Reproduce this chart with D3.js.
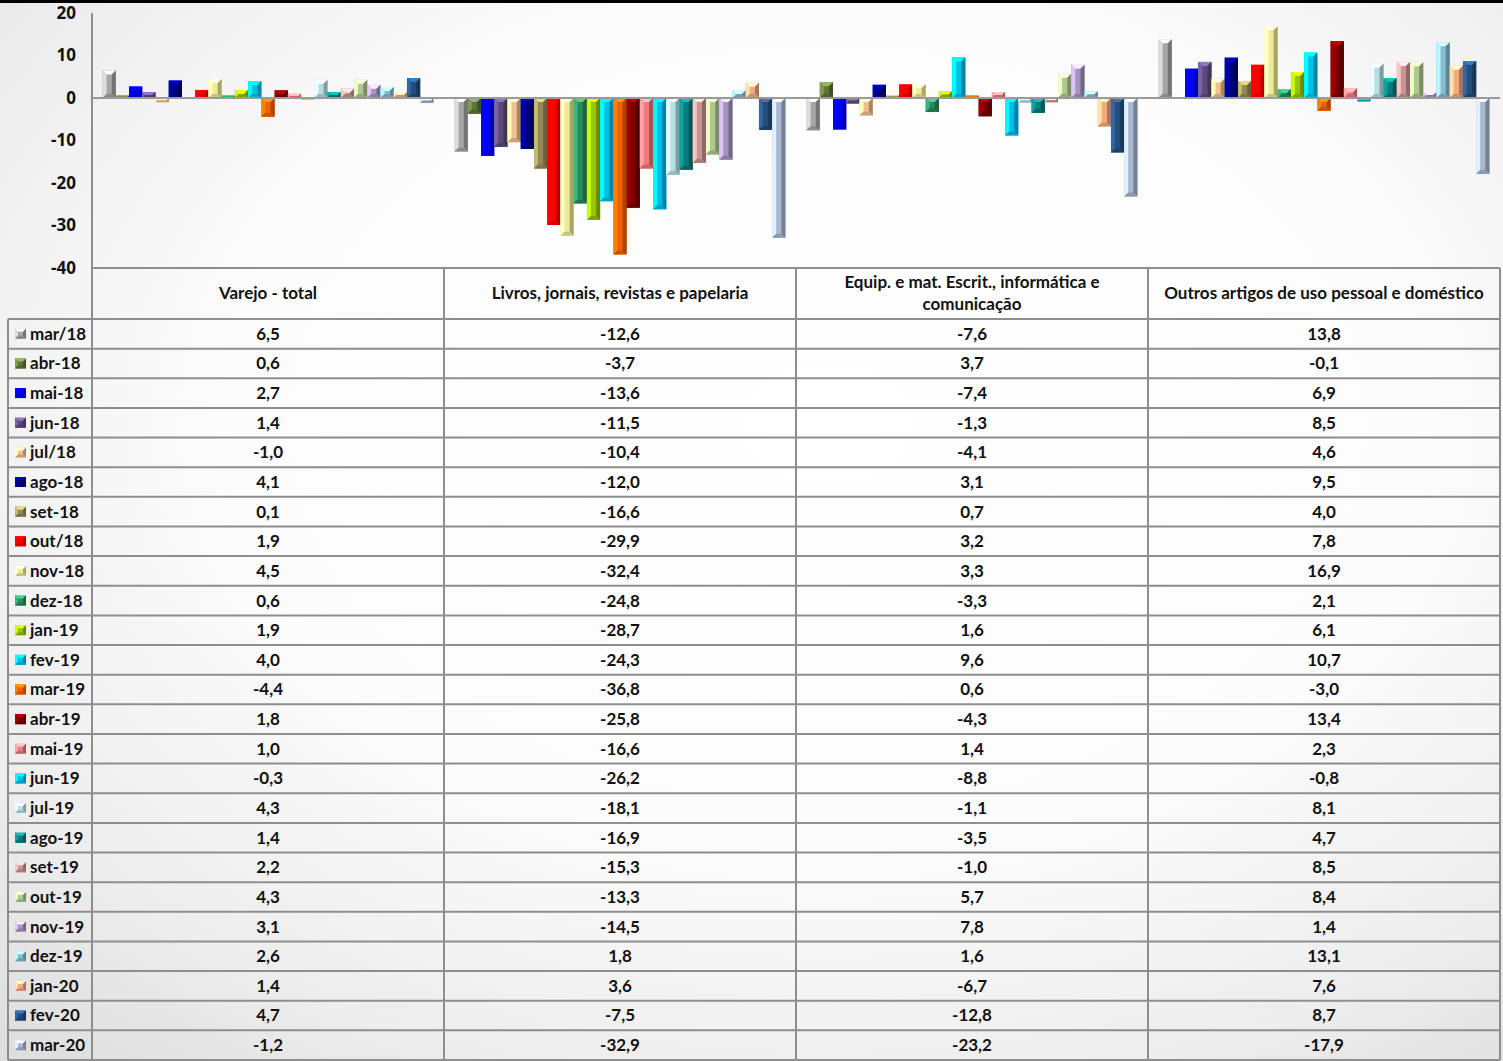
<!DOCTYPE html>
<html>
<head>
<meta charset="utf-8">
<script src="https://cdn.jsdelivr.net/npm/d3@7"></script>
<style>
body{margin:0;background:#fff;}
svg{display:block;}
.axis text{font-family:"Open Sans",sans-serif;font-weight:700;font-size:17px;fill:#111;}
.cell{font-family:Lato,"Open Sans",sans-serif;font-weight:700;font-size:17px;fill:#111;}
.grid line{stroke:#8e8e8e;stroke-width:2;}
</style>
</head>
<body>
<svg></svg>
<script>
// categories (table columns)
var categories = ["Varejo - total","Livros, jornais, revistas e papelaria",
                  "Equip. e mat. Escrit., informática e comunicação",
                  "Outros artigos de uso pessoal e doméstico"]
var headerLines = [["Varejo - total"],["Livros, jornais, revistas e papelaria"],
                   ["Equip. e mat. Escrit., informática e","comunicação"],
                   ["Outros artigos de uso pessoal e doméstico"]]

// series (one per month)
var months = ["mar/18","abr-18","mai-18","jun-18","jul/18","ago-18","set-18","out/18",
              "nov-18","dez-18","jan-19","fev-19","mar-19","abr-19","mai-19","jun-19",
              "jul-19","ago-19","set-19","out-19","nov-19","dez-19","jan-20","fev-20","mar-20"]

var varejo = [6.5,0.6,2.7,1.4,-1.0,4.1,0.1,1.9,4.5,0.6,1.9,4.0,-4.4,1.8,1.0,-0.3,4.3,1.4,2.2,4.3,3.1,2.6,1.4,4.7,-1.2]
var livros = [-12.6,-3.7,-13.6,-11.5,-10.4,-12.0,-16.6,-29.9,-32.4,-24.8,-28.7,-24.3,-36.8,-25.8,-16.6,-26.2,-18.1,-16.9,-15.3,-13.3,-14.5,1.8,3.6,-7.5,-32.9]
var equip  = [-7.6,3.7,-7.4,-1.3,-4.1,3.1,0.7,3.2,3.3,-3.3,1.6,9.6,0.6,-4.3,1.4,-8.8,-1.1,-3.5,-1.0,5.7,7.8,1.6,-6.7,-12.8,-23.2]
var outros = [13.8,-0.1,6.9,8.5,4.6,9.5,4.0,7.8,16.9,2.1,6.1,10.7,-3.0,13.4,2.3,-0.8,8.1,4.7,8.5,8.4,1.4,13.1,7.6,8.7,-17.9]

var yTicks = [20,10,0,-10,-20,-30,-40]

var colors = ["#a6a6a6","#60743a","#0000ff","#5c4a7c","#f2c08e","#000080","#948a54","#ff0000",
              "#eeea96","#288a5c","#95c400","#00c0e8","#f06000","#7a0000","#ee7a7c","#00bde8",
              "#b4e0e4","#0a7a7a","#c89494","#b0c890","#a495bd","#86bcd0","#f4aa80","#244d7c","#a8b6d0"]

var seriesByCat = [varejo,livros,equip,outros]

var locale = d3.formatLocale({decimal:",",thousands:".",grouping:[3],currency:["R$",""],minus:"-"})
var fmt1 = locale.format(".1f")
var fmt0 = locale.format("d")

var screen = {width:1503,height:1061}
var plot = {left:92,right:1500,top:13,bottom:268}
var table = {left:8,header:319,bottom:1060}

var svg = d3.select("svg")
    .attr("width",screen.width)
    .attr("height",screen.height)

var drawBackground = function()
{
    var defs = svg.append("defs")
    var g = defs.append("radialGradient")
        .attr("id","bg")
        .attr("cx","55%").attr("cy","40%").attr("r","80%")
    g.append("stop").attr("offset","0%").attr("stop-color","#ffffff")
    g.append("stop").attr("offset","50%").attr("stop-color","#fcfcfc")
    g.append("stop").attr("offset","80%").attr("stop-color","#ededed")
    g.append("stop").attr("offset","100%").attr("stop-color","#dedede")

    svg.append("rect")
        .attr("width",screen.width).attr("height",screen.height)
        .attr("fill","url(#bg)")
    svg.append("rect")
        .attr("width",screen.width).attr("height",3)
        .attr("fill","#000")
}

// bevelled bar, like the excel "cool slant" look
var bevelBar = function(parent,x0,x1,ya,yb,color,bev)
{
    var top = Math.min(ya,yb), bot = Math.max(ya,yb)
    var h = bot-top, w = x1-x0
    var b = Math.min(bev||4,h/2,w/2)
    var c = d3.color(color)
    var light = c.brighter(0.8).formatHex()
    var lighter = c.brighter(1.3).formatHex()
    var dark = c.darker(1.0).formatHex()
    var mid = c.darker(0.5).formatHex()
    var g = parent.append("g")
    g.append("rect")
        .attr("x",x0).attr("y",top).attr("width",w).attr("height",h)
        .attr("fill",color)
    var poly = function(pts,fill)
    {
        g.append("polygon")
            .attr("points",pts.map(function(p){return p.join(",")}).join(" "))
            .attr("fill",fill)
    }
    poly([[x0,top],[x1,top],[x1-b,top+b],[x0+b,top+b]],lighter)
    poly([[x0,top],[x0+b,top+b],[x0+b,bot-b],[x0,bot]],light)
    poly([[x1,top],[x1,bot],[x1-b,bot-b],[x1-b,top+b]],dark)
    poly([[x0,bot],[x0+b,bot-b],[x1-b,bot-b],[x1,bot]],mid)
}

var drawBars = function(xScale,yScale)
{
    var inner = d3.scaleBand()
        .domain(months)
        .range([0,xScale.bandwidth()])

    var bars = svg.append("g").attr("class","bars")
    categories.forEach(function(cat,ci)
    {
        seriesByCat[ci].forEach(function(v,mi)
        {
            var x0 = xScale(cat)+inner(months[mi])
            bevelBar(bars,x0,x0+inner.bandwidth(),yScale(0),yScale(v),colors[mi],4)
        })
    })
}

var drawAxes = function(yScale)
{
    var yAxis = d3.axisLeft(yScale)
        .tickValues(yTicks)
        .tickSize(0)
        .tickPadding(16)
        .tickFormat(fmt0)

    var ax = svg.append("g")
        .attr("class","axis")
        .attr("transform","translate("+plot.left+",0)")
        .call(yAxis)
    ax.select(".domain").remove()

    svg.append("line")
        .attr("x1",plot.left).attr("x2",plot.left)
        .attr("y1",plot.top).attr("y2",plot.bottom)
        .attr("stroke","#8e8e8e").attr("stroke-width",2)

    svg.append("line")
        .attr("x1",plot.left).attr("x2",plot.right)
        .attr("y1",yScale(0)).attr("y2",yScale(0))
        .attr("stroke","#9a9a9a").attr("stroke-width",2)
}

var drawTable = function(colScale,rowScale)
{
    var grid = svg.append("g").attr("class","grid")
    var hline = function(x1,x2,y)
    {
        grid.append("line").attr("x1",x1).attr("x2",x2).attr("y1",y).attr("y2",y)
    }
    var vline = function(x,y1,y2)
    {
        grid.append("line").attr("x1",x).attr("x2",x).attr("y1",y1).attr("y2",y2)
    }

    hline(plot.left,plot.right,plot.bottom)
    hline(table.left,plot.right,table.header)
    months.forEach(function(m)
    {
        hline(table.left,plot.right,rowScale(m)+rowScale.bandwidth())
    })
    vline(table.left,table.header,table.bottom)
    vline(plot.left,plot.bottom,table.bottom)
    categories.forEach(function(c)
    {
        vline(colScale(c)+colScale.bandwidth(),plot.bottom,table.bottom)
    })

    var txt = svg.append("g")
    // headers
    categories.forEach(function(c,ci)
    {
        var lines = headerLines[ci]
        var cy = (plot.bottom+table.header)/2
        var lh = 22
        lines.forEach(function(l,li)
        {
            txt.append("text")
                .attr("class","cell")
                .attr("x",colScale(c)+colScale.bandwidth()/2)
                .attr("y",cy+(li-(lines.length-1)/2)*lh)
                .attr("dy","0.35em")
                .attr("text-anchor","middle")
                .text(l)
        })
    })

    // rows
    months.forEach(function(m,mi)
    {
        var cy = rowScale(m)+rowScale.bandwidth()/2
        bevelBar(txt,15,26,cy-5,cy+5,colors[mi],3)
        txt.append("text")
            .attr("class","cell")
            .attr("x",30)
            .attr("y",cy)
            .attr("dy","0.35em")
            .text(m)
        categories.forEach(function(c,ci)
        {
            txt.append("text")
                .attr("class","cell")
                .attr("x",colScale(c)+colScale.bandwidth()/2)
                .attr("y",cy)
                .attr("dy","0.35em")
                .attr("text-anchor","middle")
                .text(fmt1(seriesByCat[ci][mi]))
        })
    })
}

var initGraph = function()
{
    drawBackground()

    var yScale = d3.scaleLinear()
        .domain([-40,20])
        .range([plot.bottom,plot.top])

    var xScale = d3.scaleBand()
        .domain(categories)
        .range([plot.left,plot.right])
        .paddingInner(0.06)
        .paddingOuter(0.03)

    var colScale = d3.scaleBand()
        .domain(categories)
        .range([plot.left,plot.right])

    var rowScale = d3.scaleBand()
        .domain(months)
        .range([table.header,table.bottom])

    drawBars(xScale,yScale)
    drawAxes(yScale)
    drawTable(colScale,rowScale)
}

initGraph()
</script>
</body>
</html>
